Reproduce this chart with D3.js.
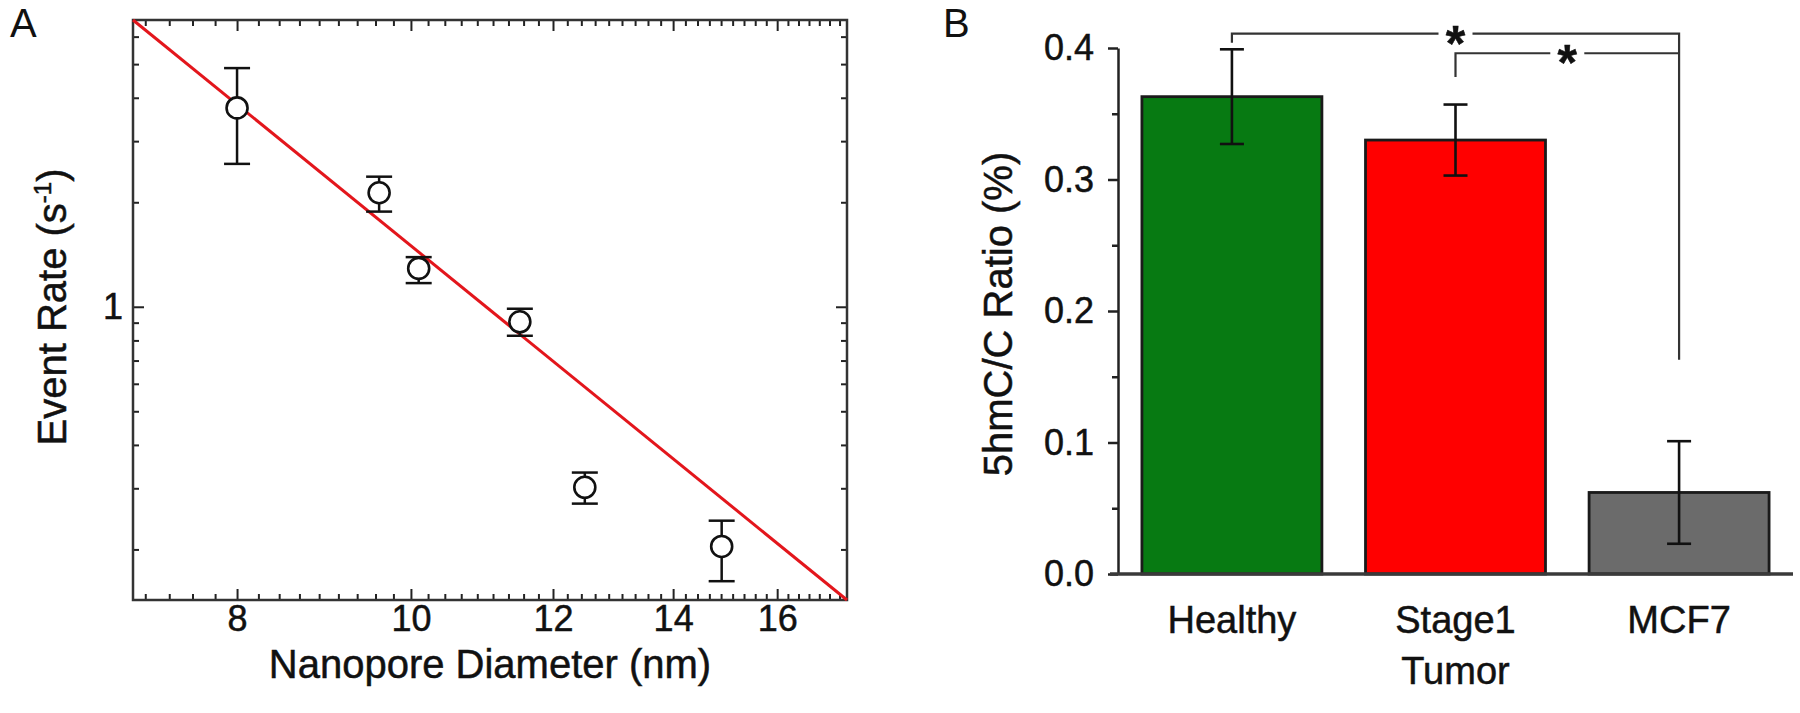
<!DOCTYPE html>
<html><head><meta charset="utf-8">
<script src="https://cdn.jsdelivr.net/npm/d3@7"></script>
<style>
body{margin:0;background:#fff}
svg{display:block}
text{font-family:"Liberation Sans",Arial,Helvetica,sans-serif;fill:#111;stroke:#111;stroke-width:0.5px}
</style>
</head><body>
<svg id="c" width="1800" height="713"></svg>
<script>
// ---------- Panel A data ----------
const diameters   = [8.0, 9.6, 10.1, 11.5, 12.5, 14.9];
const eventRates  = [3.74, 2.13, 1.29, 0.905, 0.302, 0.204];
const rateUpper   = [4.87, 2.37, 1.39, 0.987, 0.333, 0.242];
const rateLower   = [2.58, 1.88, 1.17, 0.825, 0.271, 0.162];
const fitX        = [7, 17.5];
const fitY        = [6.7, 0.143];
const xTicksA     = [8, 10, 12, 14, 16];
const yTicksA     = [1];
const yMinorA     = [0.2, 0.3, 0.4, 0.5, 0.6, 0.7, 0.8, 0.9, 2, 3, 4, 5, 6];
const xDomainA    = [7, 17.5];
const yDomainA    = [0.143, 6.7];

// ---------- Panel B data ----------
const groups      = ["Healthy", "Stage1\nTumor", "MCF7"];
const ratios      = [0.363, 0.330, 0.062];
const ratioErr    = [0.036, 0.027, 0.039];
const barColors   = ["#077a12", "#ff0000", "#6b6b6b"];
const yTicksB     = [0.0, 0.1, 0.2, 0.3, 0.4];
const yMinorB     = [0.05, 0.15, 0.25, 0.35];
const sigFrom     = [0, 1];
const sigTo       = [2, 2];
const sigLevel    = [0.411, 0.396];
const sigLeftEnd  = [0.404, 0.378];
const sigRightEnd = [0.163, 0.396];
const sigLabel    = ["*", "*"];

const svg = d3.select("#c");
const FONT = '"Liberation Sans",Arial,Helvetica,sans-serif';
const INK = "#222";

// ================= Panel A =================
const A = {l:133, r:847, t:20, b:600};
const xA = d3.scaleLog().domain(xDomainA).range([A.l, A.r]);
const yA = d3.scaleLog().domain(yDomainA).range([A.b, A.t]);

// minor x ticks: 8 subdivisions per 2-unit interval
const xMinorA = [];
for (let k = 6; k < 18; k += 2) for (let j = 1; j < 9; j++) {
  const v = k + j * 2 / 9;
  if (v > xDomainA[0] && v < xDomainA[1]) xMinorA.push(v);
}

const gA = svg.append("g");
function styleAxis(g, fs) {
  g.select(".domain").remove();
  g.selectAll(".tick line").attr("stroke", INK).attr("stroke-width", 2);
  g.attr("font-family", FONT).attr("font-size", fs);
  g.selectAll(".tick text").attr("fill", "#111");
}
// bottom
gA.append("g").attr("transform", `translate(0,${A.b})`)
  .call(d3.axisBottom(xA).tickValues(xTicksA).tickFormat(d3.format("d")).tickSizeInner(-11).tickSizeOuter(0).tickPadding(5))
  .call(g => styleAxis(g, 36));
gA.append("g").attr("transform", `translate(0,${A.b})`)
  .call(d3.axisBottom(xA).tickValues(xMinorA).tickFormat("").tickSizeInner(-6).tickSizeOuter(0))
  .call(g => styleAxis(g, 36));
// top
gA.append("g").attr("transform", `translate(0,${A.t})`)
  .call(d3.axisTop(xA).tickValues(xTicksA).tickFormat("").tickSizeInner(-11).tickSizeOuter(0))
  .call(g => styleAxis(g, 36));
gA.append("g").attr("transform", `translate(0,${A.t})`)
  .call(d3.axisTop(xA).tickValues(xMinorA).tickFormat("").tickSizeInner(-6).tickSizeOuter(0))
  .call(g => styleAxis(g, 36));
// left
gA.append("g").attr("transform", `translate(${A.l},0)`)
  .call(d3.axisLeft(yA).tickValues(yTicksA).tickFormat(d3.format("d")).tickSizeInner(-11).tickSizeOuter(0).tickPadding(10))
  .call(g => styleAxis(g, 36));
gA.append("g").attr("transform", `translate(${A.l},0)`)
  .call(d3.axisLeft(yA).tickValues(yMinorA).tickFormat("").tickSizeInner(-6).tickSizeOuter(0))
  .call(g => styleAxis(g, 36));
// right
gA.append("g").attr("transform", `translate(${A.r},0)`)
  .call(d3.axisRight(yA).tickValues(yTicksA).tickFormat("").tickSizeInner(-11).tickSizeOuter(0))
  .call(g => styleAxis(g, 36));
gA.append("g").attr("transform", `translate(${A.r},0)`)
  .call(d3.axisRight(yA).tickValues(yMinorA).tickFormat("").tickSizeInner(-6).tickSizeOuter(0))
  .call(g => styleAxis(g, 36));

// frame
gA.append("rect").attr("x", A.l).attr("y", A.t).attr("width", A.r - A.l).attr("height", A.b - A.t)
  .attr("fill", "none").attr("stroke", "#333").attr("stroke-width", 2.5);

// fit line
const fitData = fitX.map((x, i) => [x, fitY[i]]);
gA.append("path").datum(fitData)
  .attr("d", d3.line().x(d => xA(d[0])).y(d => yA(d[1])))
  .attr("fill", "none").attr("stroke", "#e3161c").attr("stroke-width", 3);

// error bars + points
const ptsA = diameters.map((d, i) => ({x: d, y: eventRates[i], hi: rateUpper[i], lo: rateLower[i]}));
const eb = gA.append("g").attr("stroke", "#111").attr("stroke-width", 2.5);
ptsA.forEach(p => {
  const cx = xA(p.x);
  eb.append("line").attr("x1", cx).attr("x2", cx).attr("y1", yA(p.hi)).attr("y2", yA(p.lo));
  eb.append("line").attr("x1", cx - 13).attr("x2", cx + 13).attr("y1", yA(p.hi)).attr("y2", yA(p.hi));
  eb.append("line").attr("x1", cx - 13).attr("x2", cx + 13).attr("y1", yA(p.lo)).attr("y2", yA(p.lo));
});
gA.append("g").selectAll("circle").data(ptsA).join("circle")
  .attr("cx", d => xA(d.x)).attr("cy", d => yA(d.y)).attr("r", 10.5)
  .attr("fill", "#fff").attr("stroke", "#111").attr("stroke-width", 2.6);

// titles
svg.append("text").attr("x", (A.l + A.r) / 2).attr("y", 678).attr("text-anchor", "middle")
  .attr("font-size", 40).text("Nanopore Diameter (nm)");
const yl = svg.append("text").attr("transform", "translate(66,307) rotate(-90)")
  .attr("text-anchor", "middle").attr("font-size", 40);
yl.append("tspan").text("Event Rate (s");
yl.append("tspan").attr("font-size", 24).attr("dy", -15).text("-1");
yl.append("tspan").attr("dy", 15).text(")");
svg.append("text").attr("x", 10).attr("y", 37).attr("font-size", 40).style("stroke-width", "0px").text("A");

// ================= Panel B =================
const B = {l:1118, r:1793, t:48, b:574};
const xB = d3.scaleBand().domain(groups).range([B.l, B.r]).paddingInner(0.195).paddingOuter(0.107);
const yB = d3.scaleLinear().domain([0, 0.4]).range([B.b, B.t]);

const gB = svg.append("g");
gB.append("g").attr("transform", `translate(${B.l},0)`)
  .call(d3.axisLeft(yB).tickValues(yTicksB).tickFormat(d3.format(".1f")).tickSizeInner(10).tickSizeOuter(0).tickPadding(14))
  .call(g => {
    g.attr("font-family", FONT).attr("font-size", 36);
    g.select(".domain").attr("stroke", INK).attr("stroke-width", 2.5);
    g.selectAll(".tick line").attr("stroke", INK).attr("stroke-width", 2.5);
    g.selectAll(".tick text").attr("fill", "#111");
  });
gB.append("g").attr("transform", `translate(${B.l},0)`)
  .call(d3.axisLeft(yB).tickValues(yMinorB).tickFormat("").tickSizeInner(6).tickSizeOuter(0))
  .call(g => { g.select(".domain").remove(); g.selectAll(".tick line").attr("stroke", INK).attr("stroke-width", 2.5); });

// bars
gB.append("g").selectAll("rect").data(groups).join("rect")
  .attr("x", d => xB(d)).attr("width", xB.bandwidth())
  .attr("y", (d, i) => yB(ratios[i])).attr("height", (d, i) => yB(0) - yB(ratios[i]))
  .attr("fill", (d, i) => barColors[i]).attr("stroke", "#1a1a1a").attr("stroke-width", 2.8);

// baseline
gB.append("line").attr("x1", B.l - 8).attr("x2", B.r).attr("y1", yB(0)).attr("y2", yB(0))
  .attr("stroke", "#3a3a3a").attr("stroke-width", 3.5);

// error bars
const ebB = gB.append("g").attr("stroke", "#111").attr("stroke-width", 2.6);
groups.forEach((g, i) => {
  const cx = xB(g) + xB.bandwidth() / 2;
  const hi = yB(ratios[i] + ratioErr[i]), lo = yB(ratios[i] - ratioErr[i]);
  ebB.append("line").attr("x1", cx).attr("x2", cx).attr("y1", hi).attr("y2", lo);
  ebB.append("line").attr("x1", cx - 12).attr("x2", cx + 12).attr("y1", hi).attr("y2", hi);
  ebB.append("line").attr("x1", cx - 12).attr("x2", cx + 12).attr("y1", lo).attr("y2", lo);
});

// category labels
groups.forEach(g => {
  const cx = xB(g) + xB.bandwidth() / 2;
  const t = gB.append("text").attr("x", cx).attr("y", 633).attr("text-anchor", "middle").attr("font-size", 38);
  g.split("\n").forEach((line, j) => t.append("tspan").attr("x", cx).attr("dy", j ? 51 : 0).text(line));
});

// significance brackets
const cen = i => xB(groups[i]) + xB.bandwidth() / 2;
const sg = gB.append("g").attr("stroke", "#333").attr("stroke-width", 2.2).attr("fill", "none");
sigFrom.forEach((f, k) => {
  const x0 = cen(f), x1 = cen(sigTo[k]), y = yB(sigLevel[k]);
  const mid = (x0 + x1) / 2, gap = 17;
  sg.append("path").attr("d", `M${x0},${yB(sigLeftEnd[k])}V${y}H${mid - gap}`);
  sg.append("path").attr("d", `M${mid + gap},${y}H${x1}V${yB(sigRightEnd[k])}`);
  gB.append("text").attr("x", mid).attr("y", y + 27).attr("text-anchor", "middle")
    .attr("font-size", 50).attr("font-weight", "bold").text(sigLabel[k]);
});

// y title
svg.append("text").attr("transform", "translate(1012,314) rotate(-90)")
  .attr("text-anchor", "middle").attr("font-size", 40).text("5hmC/C Ratio (%)");
svg.append("text").attr("x", 943).attr("y", 37).attr("font-size", 40).style("stroke-width", "0px").text("B");
</script>
</body></html>
